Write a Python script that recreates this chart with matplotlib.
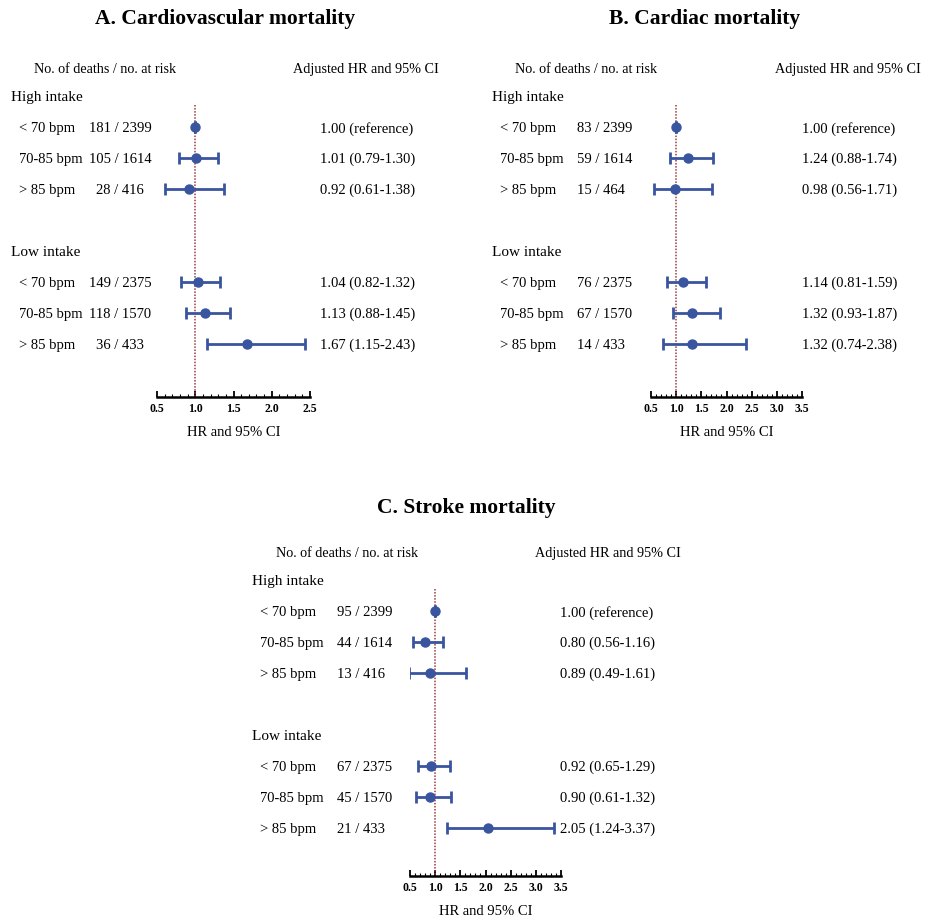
import matplotlib.pyplot as plt
import matplotlib.transforms as mtransforms
from matplotlib.ticker import MultipleLocator

plt.rcParams['font.family'] = ['Liberation Serif', 'DejaVu Serif']

W, H = 925, 919

# shared row labels
groups = ['High intake', 'Low intake']
hr_labels = ['< 70 bpm', '70-85 bpm', '> 85 bpm']

# A. Cardiovascular mortality
a_counts = ['181 / 2399', '105 / 1614', '28 / 416', '149 / 2375', '118 / 1570', '36 / 433']
a_hr = [1.00, 1.01, 0.92, 1.04, 1.13, 1.67]
a_lo = [1.00, 0.79, 0.61, 0.82, 0.88, 1.15]
a_hi = [1.00, 1.30, 1.38, 1.32, 1.45, 2.43]

# B. Cardiac mortality
b_counts = ['83 / 2399', '59 / 1614', '15 / 464', '76 / 2375', '67 / 1570', '14 / 433']
b_hr = [1.00, 1.24, 0.98, 1.14, 1.32, 1.32]
b_lo = [1.00, 0.88, 0.56, 0.81, 0.93, 0.74]
b_hi = [1.00, 1.74, 1.71, 1.59, 1.87, 2.38]

# C. Stroke mortality
c_counts = ['95 / 2399', '44 / 1614', '13 / 416', '67 / 2375', '45 / 1570', '21 / 433']
c_hr = [1.00, 0.80, 0.89, 0.92, 0.90, 2.05]
c_lo = [1.00, 0.56, 0.49, 0.65, 0.61, 1.24]
c_hi = [1.00, 1.16, 1.61, 1.29, 1.32, 3.37]

BLUE = '#3a559f'
rows = [0, 1, 2, 5, 6, 7]

fig = plt.figure(figsize=(W / 100, H / 100), dpi=100)


def panel(title, counts, hr, lo, hi, xmax, ax_px, row0, axis_px, tx, count_x, count_ha):
    # ax_px: left/right pixel of the HR axis, row0: pixel y of the first row
    step = 31.0
    ybot = (axis_px - row0) / step
    ytop = -3.0
    left, right = ax_px
    top_px = row0 + ytop * step
    ax = fig.add_axes([left / W, 1 - axis_px / H, (right - left) / W, (axis_px - top_px) / H])
    ax.set_xlim(0.5, xmax)
    ax.set_ylim(ybot, ytop)

    err = [[h - l for h, l in zip(hr, lo)], [u - h for h, u in zip(hr, hi)]]
    ax.errorbar(hr, rows, xerr=err, fmt='o', color=BLUE, ms=6.5, lw=2,
                capsize=4, capthick=2, zorder=3)
    ax.vlines(1.0, -0.7, ybot, color='#9a3c3c', linestyle=(0, (1, 1)), lw=1.1, zorder=2)

    for s in ['left', 'right', 'top']:
        ax.spines[s].set_visible(False)
    ax.spines['bottom'].set_linewidth(1.8)
    ax.set_yticks([])
    ax.xaxis.set_major_locator(MultipleLocator(0.5))
    ax.xaxis.set_minor_locator(MultipleLocator(0.1))
    ax.tick_params(axis='x', which='major', direction='in', length=4, width=1.3, pad=4)
    ax.tick_params(axis='x', which='minor', direction='in', length=2, width=0.8)
    ax.set_xticks(ax.get_xticks())
    ax.set_xticklabels([f'{v:.1f}' for v in ax.get_xticks()], fontweight='bold', fontsize=8.5)
    ax.set_xlim(0.5, xmax)
    ax.set_xlabel('HR and 95% CI', fontsize=10.5, labelpad=8)

    tr = mtransforms.blended_transform_factory(fig.transFigure, ax.transData)
    fig.text(tx['title'] / W, 1 - tx['title_y'] / H, title, ha='center', va='center',
             fontsize=15.5, fontweight='bold')
    ax.text(tx['head1'] / W, -1.9, 'No. of deaths / no. at risk', transform=tr,
            ha='center', va='center_baseline', fontsize=10.2)
    ax.text(tx['head2'] / W, -1.9, 'Adjusted HR and 95% CI', transform=tr,
            ha='left', va='center_baseline', fontsize=10.2)
    for g, gy in zip(groups, [-1, 4]):
        ax.text(tx['group'] / W, gy, g, transform=tr, ha='left', va='center_baseline', fontsize=11)
    for i, r in enumerate(rows):
        ax.text(tx['label'] / W, r, hr_labels[i % 3], transform=tr, ha='left',
                va='center_baseline', fontsize=10.5)
        ax.text(count_x / W, r, counts[i], transform=tr, ha=count_ha,
                va='center_baseline', fontsize=10.5)
        if i == 0:
            s = f'{hr[i]:.2f} (reference)'
        else:
            s = f'{hr[i]:.2f} ({lo[i]:.2f}-{hi[i]:.2f})'
        ax.text(tx['hrtext'] / W, r, s, transform=tr, ha='left', va='center_baseline', fontsize=10.5)
    return ax


panel('A. Cardiovascular mortality', a_counts, a_hr, a_lo, a_hi, 2.5, (157, 310), 127, 397,
      dict(title=225, title_y=19, head1=105, head2=293, group=11, label=19, hrtext=320),
      120, 'center')
panel('B. Cardiac mortality', b_counts, b_hr, b_lo, b_hi, 3.5, (651, 802), 127, 397,
      dict(title=705, title_y=19, head1=586, head2=775, group=492, label=500, hrtext=802),
      577, 'left')
panel('C. Stroke mortality', c_counts, c_hr, c_lo, c_hi, 3.5, (410, 561), 611, 876,
      dict(title=466, title_y=508, head1=347, head2=535, group=252, label=260, hrtext=560),
      337, 'left')

fig.savefig('out.png', dpi=100)
